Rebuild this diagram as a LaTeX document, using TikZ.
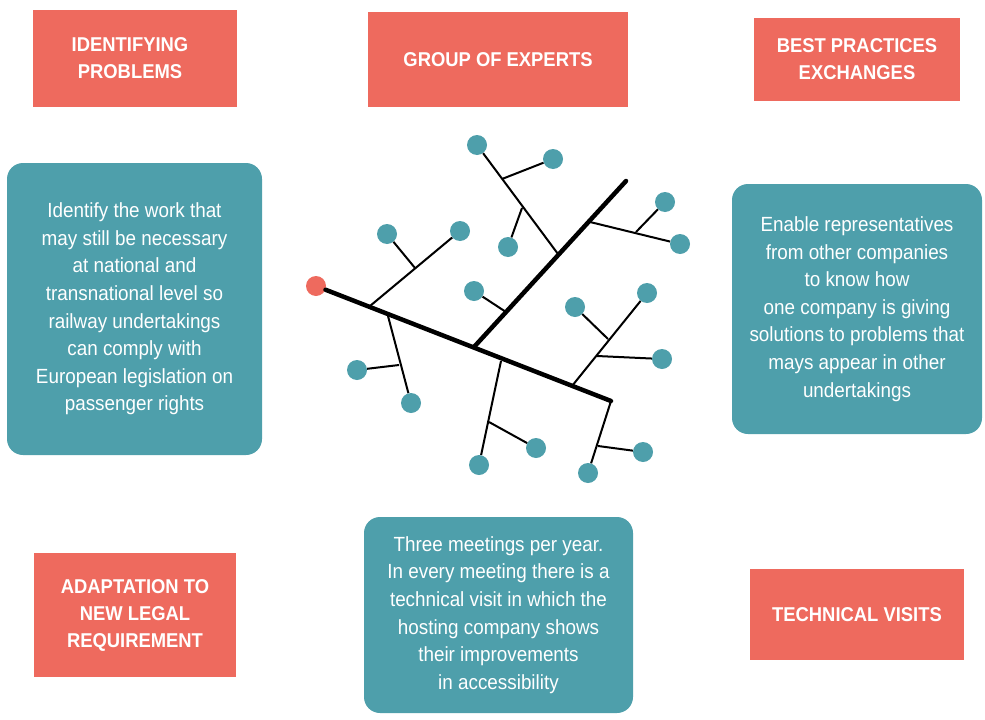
\documentclass[tikz,border=0pt]{standalone}
\usepackage{fontspec}
\setmainfont{Liberation Sans}[FakeStretch=0.92]
\definecolor{myred}{HTML}{EE6A5E}
\definecolor{myteal}{HTML}{4E9FAB}
\tikzset{
  hdr/.style={fill=myred, text=white, inner sep=0pt, align=center,
    font=\bfseries\fontsize{20}{27}\selectfont},
  tbox/.style={fill=myteal, text=white, inner sep=0pt, align=center,
    rounded corners=16pt, font=\fontsize{20.5}{27.6}\selectfont},
  dot/.style={circle, fill=myteal, minimum size=20pt, inner sep=0pt},
  rdot/.style={circle, fill=myred, minimum size=20pt, inner sep=0pt},
  thick line/.style={line width=4.5pt, line cap=round},
  thin line/.style={line width=2pt},
}
\begin{document}
\begin{tikzpicture}[x=1pt,y=-1pt]
\useasboundingbox (0,0) rectangle (985,720);
% header boxes
\node[hdr, minimum width=204pt, minimum height=97pt] (h1) at (135,58.5) {\hspace*{-10pt}IDENTIFYING\\\hspace*{-10pt}PROBLEMS};
\node[hdr, minimum width=260pt, minimum height=95pt] (h2) at (498,59.5) {GROUP OF EXPERTS};
\node[hdr, minimum width=206pt, minimum height=83pt] (h3) at (857,59.5) {BEST PRACTICES\\EXCHANGES};
\node[hdr, minimum width=202pt, minimum height=124pt] (h4) at (135,615) {ADAPTATION TO\\NEW LEGAL\\REQUIREMENT};
\node[hdr, minimum width=214pt, minimum height=91pt] (h5) at (857,614.5) {TECHNICAL VISITS};
% teal boxes
\node[tbox, minimum width=255pt, minimum height=292pt] (t1) at (134.5,309) {Identify the work that\\may still be necessary\\at national and\\transnational level so\\railway undertakings\\can comply with\\European legislation on\\passenger rights};
\node[tbox, minimum width=250pt, minimum height=250pt] (t2) at (857,309) {Enable representatives\\from other companies\\to know how\\one company is giving\\solutions to problems that\\mays appear in other\\undertakings};
\node[tbox, minimum width=269pt, minimum height=196pt] (t3) at (498.5,615) {Three meetings per year.\\In every meeting there is a\\technical visit in which the\\hosting company shows\\their improvements\\in accessibility};
% tree coordinates
\coordinate (m1) at (370,306);
\coordinate (m2) at (388,316);
\coordinate (m3) at (474,347);
\coordinate (m4) at (501,361);
\coordinate (m5) at (572,386);
\coordinate (m6) at (611,401);
\coordinate (b0) at (626,181);
\coordinate (b1) at (506,312);
\coordinate (b2) at (558,254);
\coordinate (b3) at (590,222);
\coordinate (s1) at (415,268);
\coordinate (s2) at (399,365);
\coordinate (s3) at (502,179);
\coordinate (s4) at (522,208);
\coordinate (s5) at (636,232);
\coordinate (s6) at (489,422);
\coordinate (s7) at (608,339);
\coordinate (s8) at (597,356);
\coordinate (s9) at (598,446);
% dots
\node[rdot] (r) at (316,286) {};
\node[dot] (d1) at (460,231) {};
\node[dot] (d2) at (387,234) {};
\node[dot] (d3) at (411,403) {};
\node[dot] (d4) at (357,370) {};
\node[dot] (d5) at (474,291) {};
\node[dot] (d6) at (477,145) {};
\node[dot] (d7) at (553,159) {};
\node[dot] (d8) at (508,247) {};
\node[dot] (d9) at (680,244) {};
\node[dot] (d10) at (665,202) {};
\node[dot] (d11) at (479,465) {};
\node[dot] (d12) at (536,448) {};
\node[dot] (d13) at (647,293) {};
\node[dot] (d14) at (575,307) {};
\node[dot] (d15) at (662,359) {};
\node[dot] (d16) at (588,473) {};
\node[dot] (d17) at (643,452) {};
% thick lines
\draw[thick line] (r) -- (m6);
\draw[thick line] (m3) -- (b0);
% thin lines
\draw[thin line] (m1) -- (d1);
\draw[thin line] (s1) -- (d2);
\draw[thin line] (m2) -- (d3);
\draw[thin line] (s2) -- (d4);
\draw[thin line] (b1) -- (d5);
\draw[thin line] (b2) -- (d6);
\draw[thin line] (s3) -- (d7);
\draw[thin line] (s4) -- (d8);
\draw[thin line] (b3) -- (d9);
\draw[thin line] (s5) -- (d10);
\draw[thin line] (m4) -- (d11);
\draw[thin line] (s6) -- (d12);
\draw[thin line] (m5) -- (d13);
\draw[thin line] (s7) -- (d14);
\draw[thin line] (s8) -- (d15);
\draw[thin line] (m6) -- (d16);
\draw[thin line] (s9) -- (d17);
\end{tikzpicture}
\end{document}
